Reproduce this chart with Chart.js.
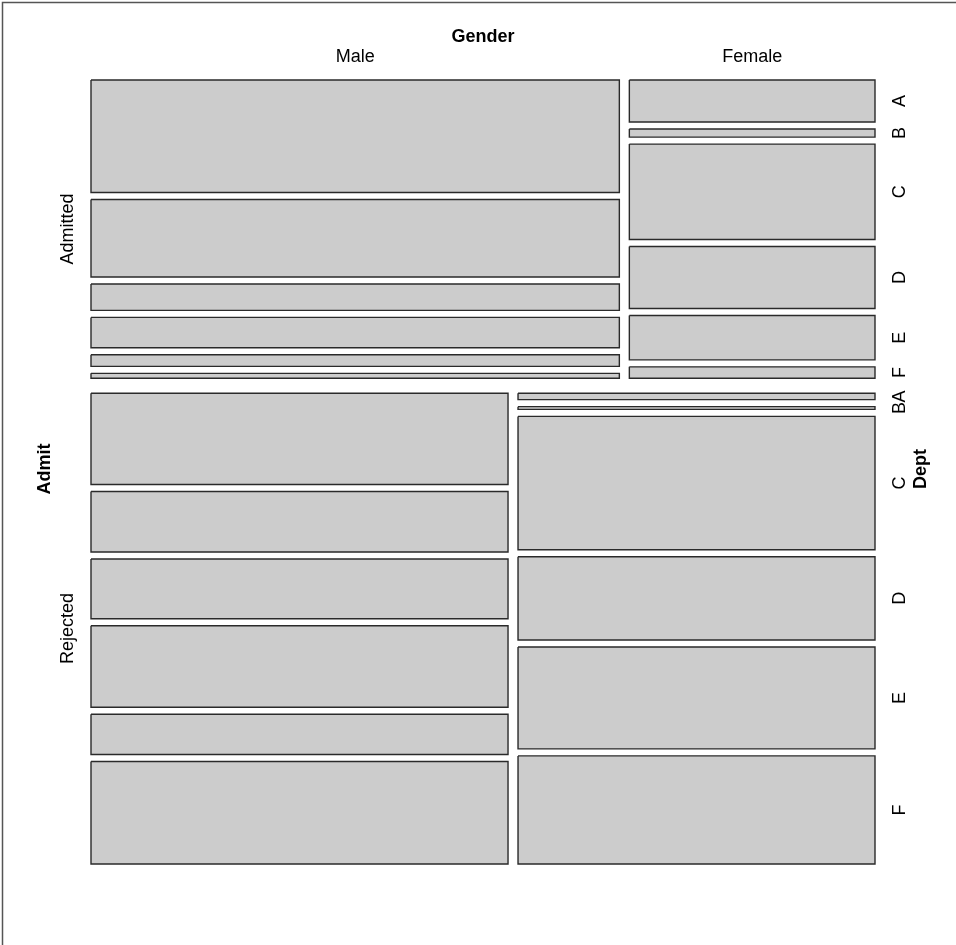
<!DOCTYPE html>
<html>
<head>
<meta charset="utf-8">
<title>UCB Admissions mosaic</title>
<script src="https://cdn.jsdelivr.net/npm/chart.js@4.4.1/dist/chart.umd.min.js"></script>
<style>
    html, body { margin: 0; padding: 0; background: #ffffff; }
    #wrap { width: 956px; height: 945px; }
</style>
</head>
<body>
<div id="wrap"><canvas id="mosaic" width="956" height="945"></canvas></div>
<script>
/* -------------------------------------------------
    DATA: UCB admissions, counts per Admit x Gender x Dept
------------------------------------------------- */
const admitLevels = ['Admitted', 'Rejected'];
const genderLevels = ['Male', 'Female'];
const deptLevels = ['A', 'B', 'C', 'D', 'E', 'F'];

const admittedMale = [512, 353, 120, 138, 53, 22];
const admittedFemale = [89, 17, 202, 131, 94, 24];
const rejectedMale = [313, 207, 205, 279, 138, 351];
const rejectedFemale = [19, 8, 391, 244, 299, 317];

const counts = [
    [admittedMale, admittedFemale],
    [rejectedMale, rejectedFemale]
];

// -------------------------------------------------
// Layout constants (chart units == pixels of the plot square)
// -------------------------------------------------
const extent = 784;
const rowGap = 15;
const colGap = 10;
const deptGap = 7;
const fontFamily = '"Liberation Sans", Arial, Helvetica, sans-serif';

const sum = arr => arr.reduce((a, b) => a + b, 0);

// -------------------------------------------------
// Split the square: Admit (rows), then Gender (columns), then Dept (stacked)
// -------------------------------------------------
const grand = sum(counts.map(row => sum(row.map(sum))));
const cells = [];
const rowSpans = [];
let rowStart = 0;
counts.forEach((row, a) => {
    const rowTotal = sum(row.map(sum));
    const rowH = (extent - rowGap) * rowTotal / grand;
    rowSpans.push({ a, y0: rowStart, y1: rowStart + rowH });
    let colStart = 0;
    row.forEach((deptCounts, g) => {
        const colTotal = sum(deptCounts);
        const colW = (extent - colGap) * colTotal / rowTotal;
        let yy = rowStart;
        deptCounts.forEach((n, d) => {
            const h = (rowH - deptGap * (deptCounts.length - 1)) * n / colTotal;
            cells.push({ a, g, d, x0: colStart, x1: colStart + colW, y0: yy, y1: yy + h });
            yy += h + deptGap;
        });
        colStart += colW + colGap;
    });
    rowStart += rowH + rowGap;
});

// one closed polygon dataset per tile
const datasets = cells.map(c => ({
    label: admitLevels[c.a] + ' / ' + genderLevels[c.g] + ' / ' + deptLevels[c.d],
    data: [
        { x: c.x0, y: c.y0 },
        { x: c.x1, y: c.y0 },
        { x: c.x1, y: c.y1 },
        { x: c.x0, y: c.y1 },
        { x: c.x0, y: c.y0 }
    ],
    showLine: true,
    fill: 'shape',
    backgroundColor: '#cccccc',
    borderColor: '#2a2a2a',
    borderWidth: 1.4,
    pointRadius: 0,
    pointHoverRadius: 0,
    tension: 0,
    clip: false
}));

/* -------------------------------------------------
    LABELS PLUGIN:
    Variable names and level labels placed with the scales.
------------------------------------------------- */
const mosaicLabels = {
    id: 'mosaicLabels',
    afterDraw(chart) {
        const ctx = chart.ctx;
        const xs = chart.scales.x;
        const ys = chart.scales.y;
        const left = xs.getPixelForValue(0);
        const right = xs.getPixelForValue(extent);
        const top = ys.getPixelForValue(0);

        ctx.save();
        ctx.fillStyle = '#000000';
        ctx.textAlign = 'center';
        ctx.textBaseline = 'middle';

        // top: Gender, labels follow the first Admit row
        ctx.font = 'bold 18px ' + fontFamily;
        ctx.fillText('Gender', (left + right) / 2, top - 43);
        ctx.font = '18px ' + fontFamily;
        genderLevels.forEach((name, g) => {
            const c = cells.find(k => k.a === 0 && k.g === g);
            ctx.fillText(name, xs.getPixelForValue((c.x0 + c.x1) / 2), top - 23);
        });

        const vText = (text, x, y, font) => {
            ctx.save();
            ctx.translate(x, y);
            ctx.rotate(-Math.PI / 2);
            ctx.font = font;
            ctx.fillText(text, 0, 0);
            ctx.restore();
        };

        // left: Admit
        const midY = (ys.getPixelForValue(0) + ys.getPixelForValue(extent)) / 2;
        vText('Admit', left - 46, midY - 3, 'bold 18px ' + fontFamily);
        rowSpans.forEach(r => {
            const y = ys.getPixelForValue((r.y0 + r.y1) / 2);
            vText(admitLevels[r.a], left - 23, y, '18px ' + fontFamily);
        });

        // right: Dept, labels follow the last Gender column
        vText('Dept', right + 46, midY - 3, 'bold 18px ' + fontFamily);
        cells.filter(k => k.g === genderLevels.length - 1).forEach(c => {
            const y = ys.getPixelForValue((c.y0 + c.y1) / 2);
            vText(deptLevels[c.d], right + 25, y, '18px ' + fontFamily);
        });

        // frame line along top and left edge
        ctx.strokeStyle = '#555555';
        ctx.lineWidth = 1.5;
        ctx.beginPath();
        ctx.moveTo(2.5, chart.height);
        ctx.lineTo(2.5, 2.5);
        ctx.lineTo(chart.width, 2.5);
        ctx.stroke();
        ctx.restore();
    }
};

new Chart(document.getElementById('mosaic').getContext('2d'), {
    type: 'scatter',
    data: { datasets },
    options: {
        responsive: false,
        animation: false,
        devicePixelRatio: 1,
        layout: { padding: { left: 91, right: 81, top: 80, bottom: 81 } },
        scales: {
            x: { type: 'linear', min: 0, max: extent, display: false },
            y: { type: 'linear', min: 0, max: extent, reverse: true, display: false }
        },
        plugins: {
            legend: { display: false },
            tooltip: { enabled: false }
        },
        events: []
    },
    plugins: [mosaicLabels]
});
</script>
</body>
</html>
